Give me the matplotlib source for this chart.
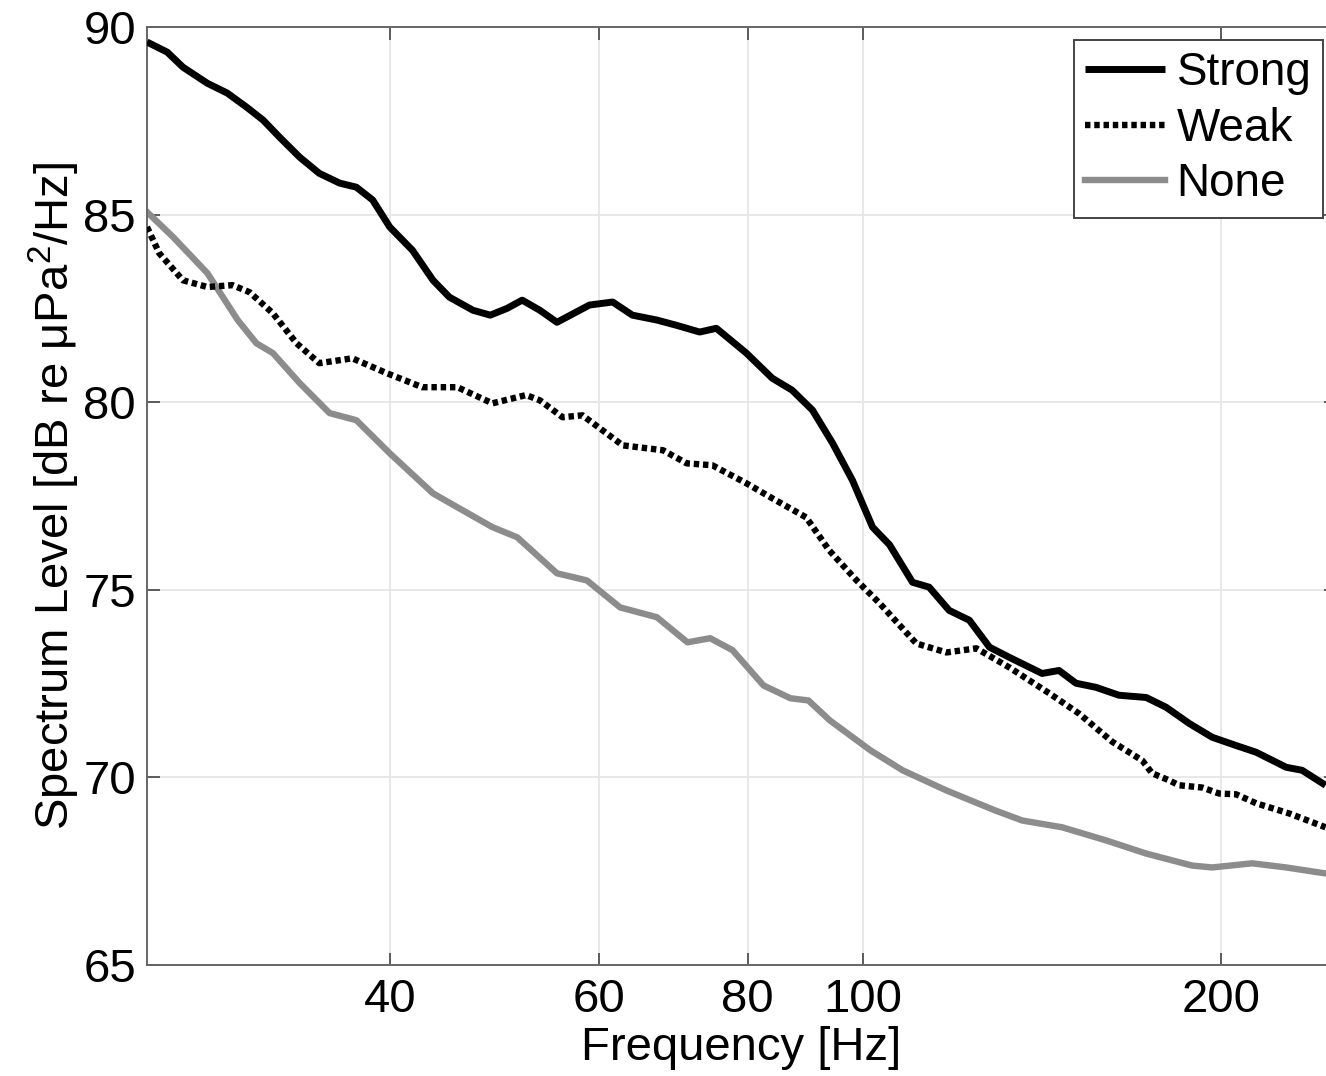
import matplotlib
matplotlib.use("Agg")
import matplotlib.pyplot as plt
from matplotlib.ticker import FixedLocator, FixedFormatter, NullLocator

plt.rcParams['font.family'] = ['Liberation Sans', 'DejaVu Sans']
plt.rcParams['mathtext.fontset'] = 'custom'
plt.rcParams['mathtext.rm'] = 'Liberation Sans'
plt.rcParams['mathtext.it'] = 'Liberation Sans:italic'

# ---- data ----
strong_f = [25.0, 26.0, 26.8, 28.1, 29.2, 30.3, 31.3, 32.3, 33.6, 34.9, 36.3, 37.5, 38.7,
            40.0, 41.8, 43.5, 44.9, 47.0, 48.6, 50.2, 51.7, 53.5, 55.3, 58.9, 61.6, 64.0,
            67.1, 69.7, 72.9, 75.3, 79.8, 83.9, 87.2, 90.7, 94.3, 98.0, 101.9, 105.3,
            110.1, 113.7, 118.2, 122.9, 127.8, 132.8, 141.5, 146.2, 151.1, 157.1, 164.2,
            173.1, 179.9, 188.1, 196.7, 206.0, 214.2, 227.0, 234.1, 245.0]
strong_db = [89.6, 89.33, 88.93, 88.5, 88.24, 87.87, 87.52, 87.07, 86.53, 86.1, 85.84, 85.73, 85.39,
             84.67, 84.05, 83.25, 82.8, 82.45, 82.32, 82.5, 82.72, 82.45, 82.13, 82.59, 82.67, 82.32,
             82.19, 82.05, 81.87, 81.97, 81.31, 80.64, 80.32, 79.79, 78.91, 77.92, 76.67, 76.2,
             75.2, 75.07, 74.45, 74.19, 73.47, 73.2, 72.77, 72.85, 72.51, 72.4, 72.19,
             72.13, 71.87, 71.44, 71.07, 70.85, 70.67, 70.27, 70.19, 69.79]

weak_f = [25.0, 25.6, 26.8, 28.1, 29.5, 30.5, 31.9, 33.4, 34.9, 37.2, 39.8, 42.6, 45.6,
          48.8, 52.1, 53.5, 55.9, 58.1, 62.8, 67.9, 71.1, 74.7, 79.8, 83.9, 89.6, 93.7,
          98.8, 103.3, 110.9, 117.6, 124.6, 132.8, 143.5, 152.0, 162.1, 171.8, 175.1,
          181.0, 184.5, 192.9, 199.4, 206.0, 214.2, 228.3, 245.0]
weak_db = [84.67, 83.97, 83.25, 83.07, 83.12, 82.93, 82.37, 81.57, 81.04, 81.17, 80.77, 80.4, 80.4,
           79.97, 80.19, 80.05, 79.6, 79.65, 78.85, 78.72, 78.37, 78.32, 77.84, 77.44, 76.93, 76.05,
           75.25, 74.64, 73.57, 73.33, 73.44, 72.93, 72.24, 71.7, 70.95, 70.45, 70.11,
           69.92, 69.79, 69.73, 69.57, 69.55, 69.31, 69.04, 68.67]

none_f = [25.0, 26.3, 28.1, 29.8, 30.9, 31.9, 33.6, 35.6, 37.5, 40.0, 43.5, 45.6, 48.8,
          51.2, 55.3, 58.6, 62.5, 67.1, 71.2, 74.4, 77.7, 82.5, 86.9, 90.0, 93.8, 101.5,
          108.0, 117.6, 129.2, 136.2, 147.1, 160.2, 173.1, 189.2, 196.7, 212.5, 227.0, 245.0]
none_db = [85.07, 84.4, 83.44, 82.19, 81.57, 81.31, 80.51, 79.71, 79.52, 78.64, 77.57, 77.2, 76.67,
           76.4, 75.44, 75.25, 74.53, 74.27, 73.6, 73.71, 73.39, 72.45, 72.11, 72.05, 71.52, 70.72,
           70.19, 69.65, 69.12, 68.85, 68.67, 68.32, 67.97, 67.65, 67.6, 67.71, 67.6, 67.44]

series_labels = ["Strong", "Weak", "None"]
xtick_vals = [40, 60, 80, 100, 200]
xtick_labels = ["40", "60", "80", "100", "200"]
ytick_vals = [65, 70, 75, 80, 85, 90]

# ---- figure ----
fig = plt.figure(figsize=(13.26, 10.76), dpi=100)
ax = fig.add_axes([147 / 1326, 111 / 1076, 1189 / 1326, 938 / 1076])

ax.plot(strong_f, strong_db, color='black', lw=5.0, solid_joinstyle='round',
        solid_capstyle='butt', label=series_labels[0], zorder=4)
ax.plot(weak_f, weak_db, color='black', lw=4.6, linestyle=(0, (0.85, 0.6)),
        dash_capstyle='butt', label=series_labels[1], zorder=3)
ax.plot(none_f, none_db, color='#8c8c8c', lw=4.6, solid_joinstyle='round',
        label=series_labels[2], zorder=2)

ax.set_xscale('log')
ax.set_xlim(25, 250)
ax.set_ylim(65, 90)
ax.xaxis.set_major_locator(FixedLocator(xtick_vals))
ax.xaxis.set_major_formatter(FixedFormatter(xtick_labels))
ax.xaxis.set_minor_locator(NullLocator())
ax.set_yticks(ytick_vals)

ax.grid(True, which='major', color='#e6e6e6', lw=1.3)
ax.set_axisbelow(True)

ax.tick_params(axis='both', which='major', direction='in', length=9, width=1.2,
               color='#444444', labelsize=34, top=True, right=True)
ax.tick_params(axis='x', pad=9)
ax.tick_params(axis='y', pad=8)
for s in ax.spines.values():
    s.set_color('#666666')
    s.set_linewidth(1.4)

ax.set_xlabel('Frequency [Hz]', fontsize=34, labelpad=3)
ax.set_ylabel('Spectrum Level [dB re μPa$^2$/Hz]', fontsize=34, labelpad=1)

leg = ax.legend(loc='upper right', bbox_to_anchor=(1323 / 1326, 1 - 40 / 1076),
                bbox_transform=fig.transFigure, borderaxespad=0, fontsize=33,
                fancybox=False, framealpha=1, edgecolor='#444444',
                handlelength=1.75, handletextpad=0.25, labelspacing=0.25,
                borderpad=0.25)
leg.get_frame().set_linewidth(1.4)

fig.savefig('out.png', dpi=100)
